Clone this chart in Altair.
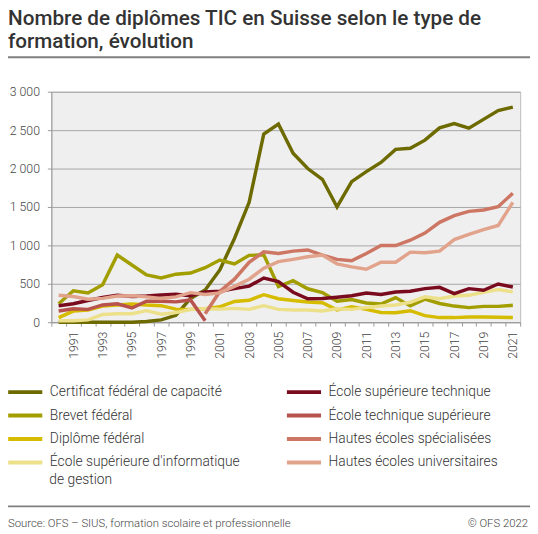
import altair as alt
import pandas as pd

# Nombre de diplômes TIC en Suisse, par type de formation
years = list(range(1990, 2022))

cfc = [0, 0, 0, 0, 0, 0, 10, 30, 90, 310,
       420, 680, 1090, 1560, 2450, 2580, 2200, 2000, 1860, 1500,
       1830, 1960, 2080, 2250, 2265, 2370, 2530, 2585, 2525, 2640,
       2755, 2800]
brevet = [240, 410, 380, 488, 875, 745, 615, 575, 625, 640,
          710, 810, 758, 870, 877, 465, 540, 435, 385, 272,
          296, 250, 236, 320, 212, 300, 244, 210, 190, 206,
          206, 220]
diplome = [60, 145, 158, 210, 223, 236, 223, 215, 170, 167,
           175, 201, 270, 285, 358, 305, 283, 262, 253, 160,
           200, 167, 126, 124, 150, 86, 60, 60, 68, 68,
           64, 60]
esig = [20, 20, 30, 100, 110, 110, 150, 105, 125, 165,
        175, 170, 180, 167, 215, 167, 160, 160, 146, 176,
        167, 190, 210, 225, 260, 330, 305, 340, 350, 390,
        425, 395]
est = [215, 240, 283, 321, 350, 334, 340, 355, 365, 345,
       394, 403, 437, 470, 575, 530, 390, 305, 308, 326,
       345, 381, 360, 394, 403, 437, 454, 373, 437, 415,
       497, 458]
ets = [146, 176, 167, 225, 240, 185, 274, 274, 265, 290,
       20] + [None] * 21
hes = [None] * 10 + [110, 400, 560, 780, 916, 895, 925, 940, 874, 818,
                     800, 895, 998, 998, 1067, 1160, 1300, 1388, 1443, 1460,
                     1503, 1680]
heu = [350, 334, 300, 310, 340, 345, 330, 310, 330, 385,
       360, 381, 467, 560, 703, 788, 818, 852, 874, 760,
       720, 690, 780, 780, 912, 903, 925, 1075, 1144, 1204,
       1260, 1559]

names = [
    "Certificat fédéral de capacité",
    "Brevet fédéral",
    "Diplôme fédéral",
    "École supérieure d'informatique de gestion",
    "École supérieure technique",
    "École technique supérieure",
    "Hautes écoles spécialisées",
    "Hautes écoles universitaires",
]
colors = ["#6d6a00", "#a39e00", "#d6bc00", "#ede08a",
          "#7a0b1f", "#b8524c", "#cd7663", "#e2a38c"]
series = [cfc, brevet, diplome, esig, est, ets, hes, heu]

rows = []
for name, vals in zip(names, series):
    for y, v in zip(years, vals):
        if v is not None:
            rows.append({"annee": y, "serie": name, "valeur": v})
df = pd.DataFrame(rows)

lines = alt.Chart(df).mark_line(strokeWidth=3.5).encode(
    x=alt.X(
        "annee:O",
        scale=alt.Scale(type="band", paddingInner=0, paddingOuter=0),
        axis=alt.Axis(
            title=None,
            labelAngle=-90,
            labelExpr="datum.value % 2 == 1 ? datum.label : ''",
            tickBand="extent",
            tickSize=4,
            tickColor="#999999",
            domainColor="#999999",
            labelPadding=5,
            labelFontSize=12.5,
            grid=False,
        ),
    ),
    y=alt.Y(
        "valeur:Q",
        scale=alt.Scale(domain=[0, 3000], nice=False),
        axis=alt.Axis(
            title=None,
            values=[0, 500, 1000, 1500, 2000, 2500, 3000],
            labelExpr="replace(format(datum.value, ','), ',', ' ')",
            tickSize=4,
            tickColor="#999999",
            domainColor="#999999",
            gridColor="#a6a6a6",
            labelPadding=8,
            labelFontSize=12.5,
        ),
    ),
    color=alt.Color(
        "serie:N",
        scale=alt.Scale(domain=names, range=colors),
        legend=alt.Legend(
            title=None,
            orient="none",
            legendX=-37.5,
            legendY=294,
            columns=2,
            columnPadding=38,
            rowPadding=4.8,
            # long flat stroke drawn wider than its layout box
            symbolType="M-2,0H2",
            symbolSize=300,
            symbolStrokeWidth=4,
            labelFontSize=14,
            labelFontWeight=300,
            labelColor="#333333",
            labelOffset=14,
            labelLimit=300,
            labelExpr="indexof(datum.label, 'gestion') > 0 ? \"École supérieure d'informatique\" : datum.label",
        ),
    ),
)

# second line of the wrapped legend label
wrap = alt.Chart(pd.DataFrame({"t": ["de gestion"]})).mark_text(
    align="left", baseline="middle", fontSize=14, fontWeight=300, color="#333333"
).encode(text="t:N", x=alt.value(-2), y=alt.value(394))

rules = alt.Chart(pd.DataFrame({"y": [-35, 421]})).mark_rule(
    color="#7f7f7f", strokeWidth=2
).encode(x=alt.value(-44), x2=alt.value(486), y=alt.Y("y:Q", scale=None))

source = alt.Chart(
    pd.DataFrame({"t": ["Source: OFS – SIUS, formation scolaire et professionnelle"]})
).mark_text(align="left", baseline="middle", fontSize=11.5, fontWeight=300, color="#444444").encode(
    text="t:N", x=alt.value(-44), y=alt.value(439)
)

copyright_ = alt.Chart(pd.DataFrame({"t": ["© OFS 2022"]})).mark_text(
    align="right", baseline="middle", fontSize=11.5, fontWeight=300, color="#444444"
).encode(text="t:N", x=alt.value(484), y=alt.value(439))

chart = (
    alt.layer(lines, wrap, rules, source, copyright_)
    .properties(
        width=476,
        height=234,
        title=alt.TitleParams(
            text=["Nombre de diplômes TIC en Suisse selon le type de", "formation, évolution"],
            anchor="start",
            frame="group",
            dx=-44,
            offset=4,
            fontSize=21,
            fontWeight=500,
            lineHeight=24,
            color="#333333",
        ),
        autosize=alt.AutoSizeParams(type="none"),
        padding={"left": 44, "top": 81, "right": 10, "bottom": 210},
    )
    .configure(font="Roboto")
    .configure_view(fill="#efefef", stroke="#bdbdbd")
    .configure_axis(labelColor="#444444", labelFontWeight=300)
)

chart.save("out.html", embed_options={"renderer": "svg", "actions": False})
